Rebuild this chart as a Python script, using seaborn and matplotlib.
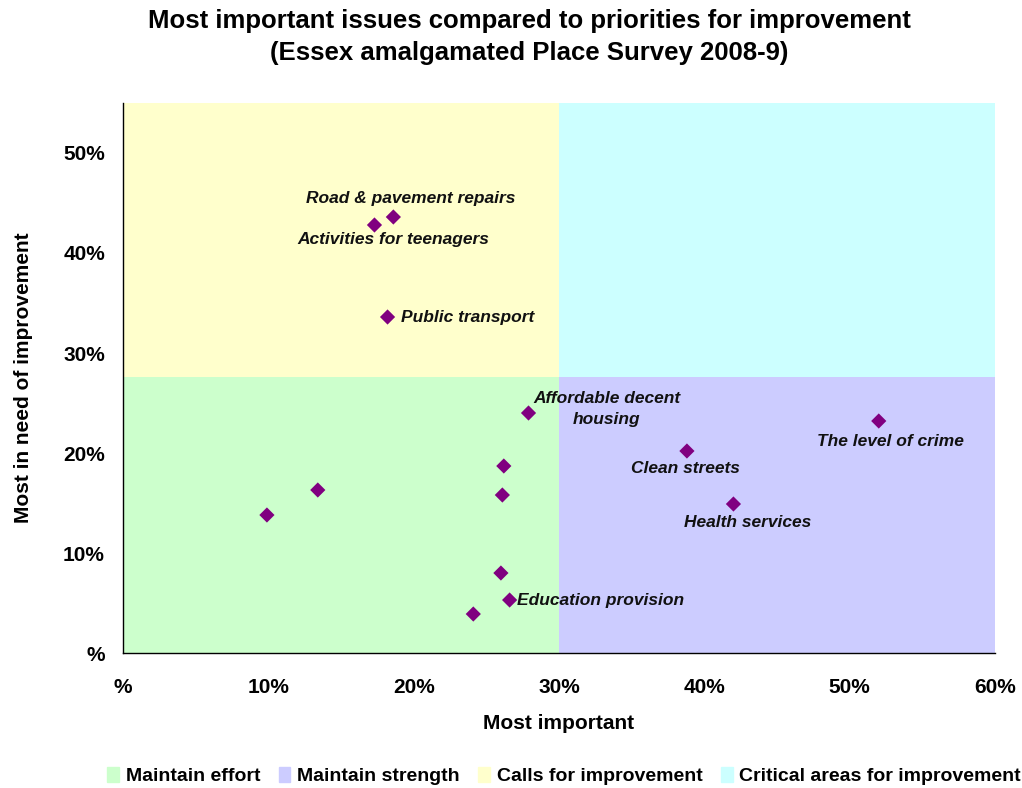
import numpy as np
import pandas as pd
import matplotlib.pyplot as plt
import matplotlib.patches as mpatches
import seaborn as sns

sns.set_style('white')
plt.rcParams['font.family'] = ['Liberation Sans', 'DejaVu Sans']
plt.rcParams.update({'text.color': 'black', 'axes.labelcolor': 'black',
                     'xtick.color': 'black', 'ytick.color': 'black'})

# data (percentages)
issues = ['Road & pavement repairs', 'Activities for teenagers', 'Public transport',
          'Affordable decent\nhousing', 'Clean streets', 'The level of crime',
          'Health services', '', '', '', '', '', 'Education provision', '']
most_important = [18.6, 17.3, 18.2, 27.9, 38.8, 52.0, 42.0, 26.2, 26.1, 13.4, 9.9, 26.0, 26.6, 24.1]
need_improvement = [43.6, 42.8, 33.6, 24.0, 20.2, 23.2, 14.9, 18.7, 15.8, 16.3, 13.8, 8.0, 5.3, 3.9]

x_split = 30
y_split = 27.6
quadrants = ['Maintain effort', 'Maintain strength', 'Calls for improvement', 'Critical areas for improvement']
quad_colors = ['#CCFFCC', '#CCCCFF', '#FFFFCC', '#CCFFFF']

# label placement, offsets in pixels from the marker
label_pos = {
    'Road & pavement repairs': (17, 18, 'center'),
    'Activities for teenagers': (19, -15, 'center'),
    'Public transport': (13, 0, 'left'),
    'Affordable decent\nhousing': (78, 4, 'center'),
    'Clean streets': (-1, -17, 'center'),
    'The level of crime': (12, -20, 'center'),
    'Health services': (14, -18, 'center'),
    'Education provision': (7, 0, 'left'),
}

df = pd.DataFrame({'issue': issues, 'x': most_important, 'y': need_improvement})

fig = plt.figure(figsize=(10.22, 7.88), dpi=100)
ax = fig.add_axes([0.1204, 0.1713, 0.8532, 0.698])
ax.set_xlim(0, 60)
ax.set_ylim(0, 55)

# quadrant backgrounds
ax.axvspan(0, x_split, 0, y_split / 55, color=quad_colors[0], lw=0, zorder=0)
ax.axvspan(x_split, 60, 0, y_split / 55, color=quad_colors[1], lw=0, zorder=0)
ax.axvspan(0, x_split, y_split / 55, 1, color=quad_colors[2], lw=0, zorder=0)
ax.axvspan(x_split, 60, y_split / 55, 1, color=quad_colors[3], lw=0, zorder=0)

sns.scatterplot(data=df, x='x', y='y', ax=ax, marker='D', s=60, color='#800080',
                edgecolor='none', zorder=3)

for _, r in df.iterrows():
    if r['issue'] in label_pos:
        dx, dy, ha = label_pos[r['issue']]
        ax.annotate(r['issue'], (r['x'], r['y']), xytext=(dx, dy), textcoords='offset pixels',
                    ha=ha, va='center', fontsize=12.5, fontweight='bold', fontstyle='italic',
                    color='#111111', multialignment='center', linespacing=1.45, zorder=4)

ticks = [0, 10, 20, 30, 40, 50, 60]
ax.set_xticks(ticks)
ax.set_xticklabels(['%' if t == 0 else f'{t}%' for t in ticks])
yticks = [0, 10, 20, 30, 40, 50]
ax.set_yticks(yticks)
ax.set_yticklabels(['%' if t == 0 else f'{t}%' for t in yticks])
ax.tick_params(axis='both', direction='out', length=5, width=1, labelsize=15)
ax.tick_params(axis='y', pad=8)
ax.tick_params(axis='x', pad=13)
for lab in ax.get_xticklabels() + ax.get_yticklabels():
    lab.set_fontweight('bold')

for s in ['top', 'right']:
    ax.spines[s].set_visible(False)
for s in ['left', 'bottom']:
    ax.spines[s].set_color('black')
    ax.spines[s].set_linewidth(1)

ax.set_xlabel('Most important', fontsize=15, fontweight='bold', labelpad=12)
ax.set_ylabel('Most in need of improvement', fontsize=15, fontweight='bold', labelpad=22)

fig.text(0.518, 0.953, 'Most important issues compared to priorities for improvement\n'
         '(Essex amalgamated Place Survey 2008-9)', ha='center', va='center',
         fontsize=18.5, fontweight='bold', linespacing=1.45)

handles = [mpatches.Patch(color=c, label=l) for c, l in zip(quad_colors, quadrants)]
fig.legend(handles=handles, loc='center', bbox_to_anchor=(0.552, 0.015), ncol=4, frameon=False,
           handlelength=0.6, handleheight=0.8, handletextpad=0.35, columnspacing=0.95,
           prop={'weight': 'bold', 'size': 14})

fig.savefig('out.png', dpi=100)
